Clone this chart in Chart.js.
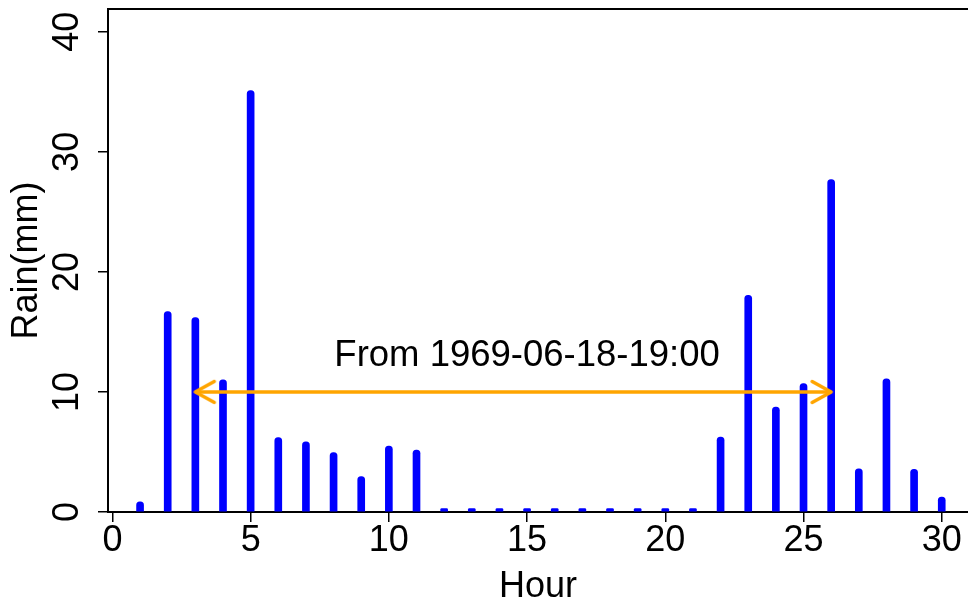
<!DOCTYPE html>
<html>
<head>
<meta charset="utf-8">
<script src="https://cdn.jsdelivr.net/npm/chart.js@4/dist/chart.umd.min.js"></script>
<style>
html,body{margin:0;padding:0;background:#fff;overflow:hidden;width:968px;height:603px}
#wrap{width:968px;height:603px;position:relative}
</style>
</head>
<body>
<div id="wrap"><canvas id="c" width="968" height="603"></canvas></div>
<script>
// ---- data ----
const hours = [1,2,3,4,5,6,7,8,9,10,11,12,13,14,15,16,17,18,19,20,21,22,23,24,25,26,27,28,29,30];
const rain  = [0.85,16.7,16.2,11.0,35.1,6.2,5.85,4.95,2.95,5.5,5.15,0,0,0,0,0,0,0,0,0,0,6.25,18.05,8.75,10.7,27.7,3.6,11.1,3.55,1.25];
const xTicks = [0,5,10,15,20,25,30];
const yTicks = [0,10,20,30,40];
const arrowFrom = 3;
const arrowTo = 26;
const arrowLevel = 10;
const noteText = 'From 1969-06-18-19:00';
const noteX = 15;
const noteY = 13;
const xTitle = 'Hour';
const yTitle = 'Rain(mm)';

// ---- styles ----
const FONT = '"Liberation Sans", Arial, sans-serif';
const ORANGE = '#FFA500';

// arrow head image (tip at centre, pointing right)
function makeHead(){
  const s = 52, c = document.createElement('canvas');
  c.width = s; c.height = s;
  const g = c.getContext('2d');
  g.strokeStyle = ORANGE; g.lineWidth = 3.5; g.lineCap = 'round'; g.lineJoin = 'round';
  g.beginPath();
  g.moveTo(s/2 - 19, s/2 - 10.5);
  g.lineTo(s/2, s/2);
  g.lineTo(s/2 - 19, s/2 + 10.5);
  g.stroke();
  return c;
}
const head = makeHead();

const notePlugin = {
  id: 'note',
  afterDatasetsDraw(chart){
    const {ctx, scales} = chart;
    ctx.save();
    ctx.font = '36.5px ' + FONT;
    ctx.fillStyle = '#000';
    ctx.textAlign = 'center';
    ctx.textBaseline = 'middle';
    ctx.fillText(noteText, scales.x.getPixelForValue(noteX), scales.y.getPixelForValue(noteY));
    ctx.restore();
  }
};

function noPad(s){ s.paddingTop = 0; s.paddingBottom = 0; s.paddingLeft = 0; s.paddingRight = 0; }

new Chart(document.getElementById('c'), {
  type: 'bar',
  data: {
    datasets: [
      {
        type: 'line',
        order: 0,
        data: [{x: arrowFrom, y: arrowLevel}, {x: arrowTo, y: arrowLevel}],
        borderColor: ORANGE,
        borderWidth: 3.5,
        borderCapStyle: 'butt',
        pointStyle: head,
        pointRadius: 1,
        pointHoverRadius: 0,
        pointBorderWidth: 0,
        pointRotation: [180, 0],
        clip: false
      },
      {
        type: 'bar',
        order: 1,
        data: hours.map((h, i) => ({x: h, y: rain[i]})),
        backgroundColor: '#0000FF',
        barThickness: 7,
        minBarLength: 3.5,
        borderRadius: {topLeft: 3.5, topRight: 3.5, bottomLeft: 0, bottomRight: 0},
        borderSkipped: 'start'
      }
    ]
  },
  options: {
    responsive: false,
    animation: false,
    events: [],
    devicePixelRatio: 1,
    layout: {autoPadding: false, padding: {top: 9, right: 0, bottom: 0, left: 0}},
    plugins: {legend: {display: false}, tooltip: {enabled: false}},
    scales: {
      x: {
        type: 'linear', position: 'bottom', min: -0.16, max: 30.95, offset: false,
        afterBuildTicks: s => { s.ticks = xTicks.map(v => ({value: v})); },
        afterFit: s => { s.height = 91; noPad(s); },
        grid: {offset: false, drawOnChartArea: false, drawTicks: true, tickLength: 10, color: '#000', lineWidth: 1.5},
        border: {display: true, color: '#000', width: 2},
        ticks: {font: {family: FONT, size: 36, lineHeight: 1}, color: '#000', padding: 1, maxRotation: 0, autoSkip: false},
        title: {display: true, text: xTitle, color: '#000', font: {family: FONT, size: 36, lineHeight: 0.9}, padding: {top: 0, bottom: 0}}
      },
      x2: {
        type: 'linear', position: 'top', min: -0.16, max: 30.95, offset: false,
        afterFit: s => { s.height = 0; noPad(s); },
        grid: {offset: false, drawOnChartArea: false, drawTicks: false},
        border: {display: true, color: '#000', width: 2},
        ticks: {display: false}
      },
      y: {
        type: 'linear', position: 'left', min: 0, max: 41.9,
        afterBuildTicks: s => { s.ticks = yTicks.map(v => ({value: v})); },
        afterFit: s => { s.width = 108; noPad(s); },
        grid: {drawOnChartArea: false, drawTicks: true, tickLength: 10, color: '#000', lineWidth: 1.5},
        border: {display: true, color: '#000', width: 2},
        ticks: {font: {family: FONT, size: 36, lineHeight: 1}, color: '#000', padding: 10, minRotation: 90, maxRotation: 90, crossAlign: 'center', autoSkip: false},
        title: {display: true, text: yTitle, color: '#000', font: {family: FONT, size: 36, lineHeight: 1}, padding: {top: 9, bottom: 0}}
      }
    }
  },
  plugins: [notePlugin]
});
</script>
</body>
</html>
